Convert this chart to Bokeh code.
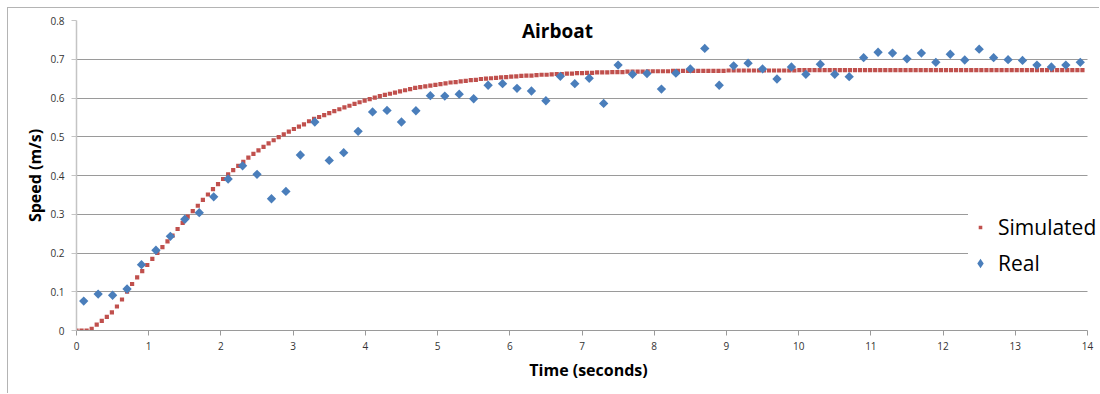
import numpy as np
from bokeh.plotting import figure
from bokeh.models import Legend, LegendItem, Label, FixedTicker, Range1d, BoxAnnotation
from bokeh.embed import file_html
from bokeh.resources import INLINE

# ---------------- data ----------------
real_t = [0.1, 0.3, 0.5, 0.7, 0.9, 1.1, 1.3, 1.5, 1.7, 1.9,
          2.1, 2.3, 2.5, 2.7, 2.9, 3.1, 3.3, 3.5, 3.7, 3.9,
          4.1, 4.3, 4.5, 4.7, 4.9, 5.1, 5.3, 5.5, 5.7, 5.9,
          6.1, 6.3, 6.5, 6.7, 6.9, 7.1, 7.3, 7.5, 7.7, 7.9,
          8.1, 8.3, 8.5, 8.7, 8.9, 9.1, 9.3, 9.5, 9.7, 9.9,
          10.1, 10.3, 10.5, 10.7, 10.9, 11.1, 11.3, 11.5, 11.7, 11.9,
          12.1, 12.3, 12.5, 12.7, 12.9, 13.1, 13.3, 13.5, 13.7, 13.9]
real_v = [0.076, 0.094, 0.091, 0.107, 0.170, 0.207, 0.243, 0.287, 0.304, 0.345,
          0.391, 0.425, 0.403, 0.340, 0.359, 0.453, 0.538, 0.439, 0.459, 0.514,
          0.564, 0.568, 0.538, 0.567, 0.606, 0.605, 0.610, 0.598, 0.633, 0.637,
          0.625, 0.618, 0.593, 0.656, 0.637, 0.651, 0.586, 0.685, 0.661, 0.663,
          0.623, 0.664, 0.675, 0.728, 0.633, 0.683, 0.690, 0.675, 0.649, 0.680,
          0.661, 0.687, 0.661, 0.655, 0.704, 0.718, 0.716, 0.701, 0.716, 0.692,
          0.713, 0.698, 0.726, 0.704, 0.699, 0.697, 0.685, 0.680, 0.685, 0.692]

sim_dt = 0.07
sim_v = [0.000, 0.000, 0.000, 0.004, 0.015, 0.025, 0.035, 0.047, 0.062, 0.080,
         0.100, 0.120, 0.137, 0.153, 0.169, 0.185, 0.200, 0.215, 0.230, 0.245,
         0.262, 0.278, 0.294, 0.308, 0.322, 0.337, 0.351, 0.365, 0.378, 0.391,
         0.403, 0.414, 0.425, 0.435, 0.446, 0.456, 0.465, 0.474, 0.483, 0.491,
         0.499, 0.506, 0.513, 0.520, 0.526, 0.532, 0.540, 0.546, 0.551, 0.556,
         0.561, 0.566, 0.571, 0.576, 0.580, 0.585, 0.589, 0.593, 0.597, 0.601,
         0.605, 0.608, 0.611, 0.614, 0.617, 0.620, 0.623, 0.626, 0.628, 0.630,
         0.632, 0.634, 0.636, 0.638, 0.640, 0.641, 0.643, 0.644, 0.646, 0.647,
         0.649, 0.650, 0.651, 0.652, 0.653, 0.654, 0.655, 0.656, 0.657, 0.658,
         0.658, 0.659, 0.660, 0.660, 0.661, 0.662, 0.662, 0.663, 0.663, 0.664,
         0.664, 0.665, 0.665, 0.666, 0.666, 0.666, 0.667, 0.667, 0.667, 0.668,
         0.668, 0.668, 0.668, 0.669, 0.669, 0.669, 0.669, 0.669, 0.670, 0.670,
         0.670, 0.670, 0.670, 0.670, 0.670, 0.670, 0.670, 0.670, 0.670, 0.671,
         0.671, 0.671, 0.671, 0.671, 0.671, 0.671, 0.671, 0.671, 0.671, 0.671,
         0.671, 0.671, 0.671, 0.672, 0.672, 0.672, 0.672, 0.672, 0.672, 0.672,
         0.672, 0.672, 0.672, 0.672, 0.672, 0.672, 0.672, 0.672, 0.672, 0.672,
         0.672, 0.672, 0.672, 0.672, 0.672, 0.672, 0.672, 0.672, 0.672, 0.672,
         0.672, 0.672, 0.672, 0.672, 0.672, 0.672, 0.672, 0.672, 0.672, 0.672,
         0.672, 0.672, 0.672, 0.672, 0.672, 0.672, 0.672, 0.672, 0.672, 0.672,
         0.672, 0.672, 0.672, 0.672, 0.672, 0.672, 0.672, 0.672, 0.672, 0.672]
sim_t = [round(i * sim_dt, 2) for i in range(len(sim_v))]

x_ticks = [0, 1, 2, 3, 4, 5, 6, 7, 8, 9, 10, 11, 12, 13, 14]
y_ticks = [0, 0.1, 0.2, 0.3, 0.4, 0.5, 0.6, 0.7, 0.8]
y_tick_labels = ["0", "0.1", "0.2", "0.3", "0.4", "0.5", "0.6", "0.7", "0.8"]

title_text = "Airboat"
x_label = "Time (seconds)"
y_label = "Speed (m/s)"
sim_name = "Simulated"
real_name = "Real"

# ---------------- styles ----------------
FONT = "Open Sans"
RED = "#c0504d"
BLUE = "#4a7ebb"
X_MAX = 14
X_VIEW_END = 14.18   # frame reaches the right edge so the legend is not clipped

p = figure(width=1092, height=386, output_backend="svg", toolbar_location=None,
           x_range=Range1d(0, X_VIEW_END), y_range=Range1d(0, 0.8),
           min_border_left=68, min_border_right=0, min_border_top=12,
           min_border_bottom=64)
p.outline_line_color = None
p.background_fill_color = "white"
p.border_fill_color = "white"
p.styles = {"margin-left": "8px", "margin-top": "8px",
            "box-shadow": "-1px -1px 0 0 #b4b4b4"}

# axes
p.xaxis.ticker = FixedTicker(ticks=x_ticks)
p.xaxis.bounds = (0, X_MAX)
p.yaxis.ticker = FixedTicker(ticks=y_ticks)
p.yaxis.major_label_overrides = dict(zip(y_ticks, y_tick_labels))
for ax in (p.xaxis[0], p.yaxis[0]):
    ax.minor_tick_line_color = None
    ax.major_tick_in = 0
    ax.major_tick_out = 5
    ax.major_label_text_font = FONT
    ax.major_label_text_font_size = "10px"
    ax.major_label_text_color = "#333333"
    ax.axis_label_text_font = FONT
    ax.axis_label_text_font_size = "16px"
    ax.axis_label_text_font_style = "bold"
    ax.axis_label_text_color = "black"
p.xaxis.axis_line_color = "#9a9a9a"
p.xaxis.major_tick_line_color = "#9a9a9a"
p.yaxis.axis_line_color = "#c4c4c4"
p.yaxis.axis_line_width = 1.5
p.yaxis.major_tick_line_color = "#c4c4c4"
p.xaxis.major_label_standoff = 6
p.yaxis.major_label_standoff = 7
p.xaxis.axis_label_standoff = 6
p.yaxis.axis_label_standoff = 1
p.xaxis.axis_label = x_label
p.yaxis.axis_label = y_label

p.xgrid.visible = False
p.ygrid.ticker = FixedTicker(ticks=y_ticks)
p.ygrid.grid_line_color = "#9a9a9a"
p.ygrid.grid_line_width = 1

# blank the strip right of the last tick so grid lines stop at 14
p.add_layout(BoxAnnotation(left=X_MAX, fill_color="white", fill_alpha=1.0,
                           line_color=None, level="underlay"))

# data marks
p.scatter(sim_t, sim_v, marker="square", size=4.2, fill_color=RED, line_color=None)
p.scatter(real_t, real_v, marker="square", size=6.6, angle=np.pi / 4,
          fill_color=BLUE, line_color=None)

# legend swatches (a single NaN row, so nothing shows in the plot)
leg_sim = p.scatter(x=[np.nan], y=[np.nan], marker="square", fill_color=RED,
                    line_color="white", line_width=6)
leg_real = p.scatter(x=[np.nan], y=[np.nan], marker="diamond", fill_color=BLUE,
                     line_color=None)

legend = Legend(items=[LegendItem(label=sim_name, renderers=[leg_sim]),
                       LegendItem(label=real_name, renderers=[leg_real])],
                location=(892, 53), orientation="vertical",
                glyph_width=24, glyph_height=24, label_height=29,
                spacing=7, padding=4, label_standoff=6, margin=0,
                border_line_color=None, background_fill_color="white",
                background_fill_alpha=1.0,
                label_text_font=FONT, label_text_font_size="21px",
                label_text_color="black")
p.add_layout(legend)

title = Label(x=6.66, y=0.774, text=title_text, text_align="center",
              text_baseline="middle", text_font=FONT,
              text_font_size="19px", text_font_style="bold", text_color="black")
p.add_layout(title)

open("out.html", "w").write(file_html(p, INLINE))
